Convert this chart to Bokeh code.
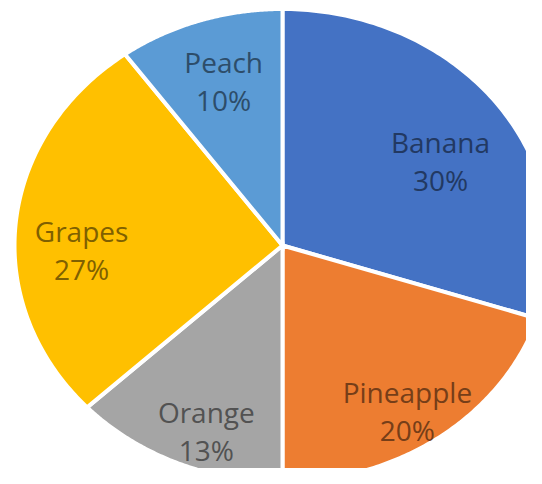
import numpy as np
from bokeh.plotting import figure
from bokeh.models import ColumnDataSource, Range1d
from bokeh.core.properties import value
from bokeh.embed import file_html
from bokeh.resources import INLINE

# ---- data ----
fruits = ["Banana", "Pineapple", "Orange", "Grapes", "Peach"]
shares = [30, 20, 13, 27, 10]
colors = ["#4472C4", "#ED7D31", "#A5A5A5", "#FFC000", "#5B9BD5"]

# ---- layout (label placement tweaks, not data) ----
label_r = [0.69, 0.84, 0.835, 0.75, 0.73]
label_da = [-4.7, -2.3, 3.5, 6.7, -0.5]

W, H = 526, 468
PX_X, PX_Y = 268.0, 236.5      # pixels per data unit (pie is drawn as an ellipse)
CX, CY = 282.0, 245.0          # centre in frame pixels (from left / from top)


def darker(h, f=0.5):
    h = h.lstrip("#")
    r, g, b = (int(h[i:i + 2], 16) for i in (0, 2, 4))
    return "#%02x%02x%02x" % (int(r * f), int(g * f), int(b * f))


p = figure(width=W, height=H, output_backend="svg", toolbar_location=None,
           x_range=Range1d(-CX / PX_X, (W - CX) / PX_X),
           y_range=Range1d(-(H - CY) / PX_Y, CY / PX_Y),
           x_axis_location=None, y_axis_location=None,
           min_border=0)
p.grid.visible = False
p.outline_line_color = None
p.background_fill_color = "white"
p.border_fill_color = "white"

total = float(sum(shares))
xs, ys, lx, ly, texts, tcolors = [], [], [], [], [], []
start = 90.0
for name, v, c, r, da in zip(fruits, shares, colors, label_r, label_da):
    sweep = 360.0 * v / total
    a = np.radians(np.linspace(start, start - sweep, 120))
    xs.append([0.0] + list(np.cos(a)))
    ys.append([0.0] + list(np.sin(a)))
    mid = np.radians(start - sweep / 2 + da)
    lx.append(r * np.cos(mid))
    ly.append(r * np.sin(mid))
    texts.append(f"{name}\n{v}%")
    tcolors.append(darker(c, 0.5))
    start -= sweep

src = ColumnDataSource(dict(xs=xs, ys=ys, color=colors))
p.patches(xs="xs", ys="ys", fill_color="color", line_color="white",
          line_width=4, line_join="miter", source=src)

lsrc = ColumnDataSource(dict(x=lx, y=ly, text=texts, tc=tcolors))
p.text(x="x", y="y", text="text", source=lsrc, text_align="center",
       text_baseline="middle", text_font=value("Open Sans"),
       text_font_size="28px", text_color="tc", text_line_height=1.0)

open("out.html", "w").write(file_html(p, INLINE))
